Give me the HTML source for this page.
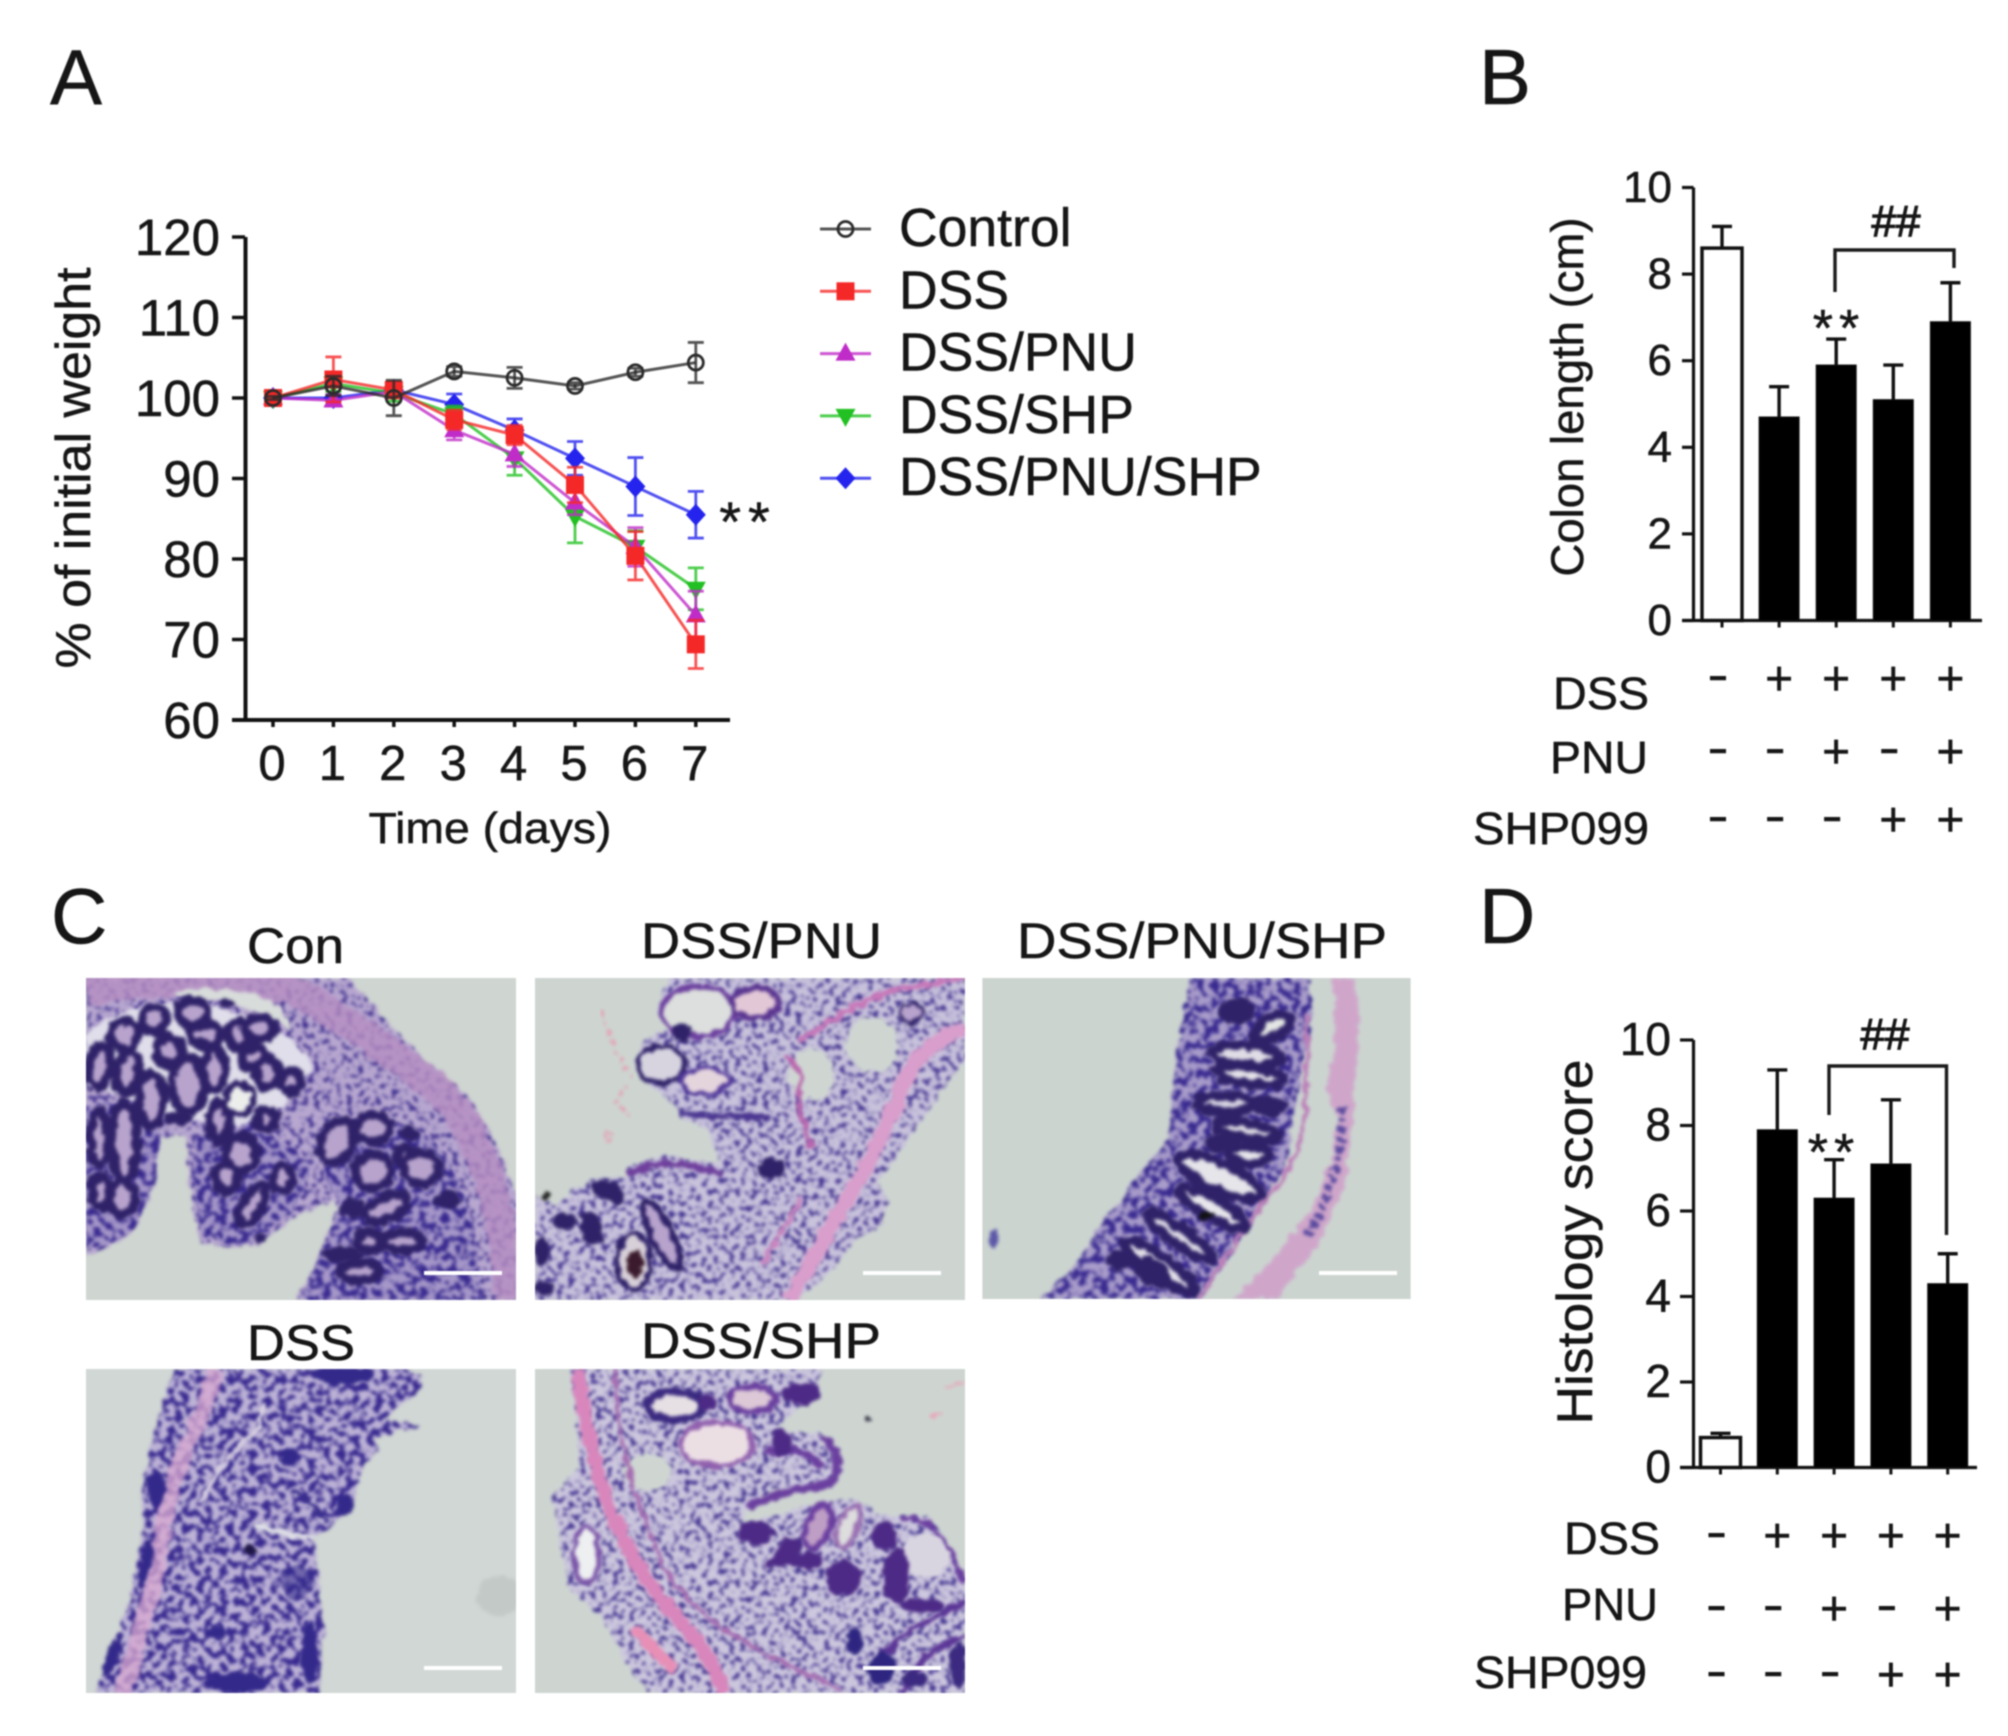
<!DOCTYPE html>
<html lang="en">
<head>
<meta charset="utf-8">
<title>Colitis weight, colon length and histology figure</title>
<style>
html,body{margin:0;padding:0;background:#fff;}
#figure{display:block;width:2008px;height:1736px;font-family:"Liberation Sans",sans-serif;filter:blur(0.8px);}
text{font-family:"Liberation Sans",sans-serif;fill:#161616;stroke:#161616;stroke-width:.5px;}
.ring{stroke:#2f2268;fill:#b7a3cc;}
.dark{fill:#2f2268;stroke:none;}
.bgp{fill:#cfd6d2;stroke:none;}
</style>
</head>
<body>
<svg id="figure" xmlns="http://www.w3.org/2000/svg" width="2008" height="1736" viewBox="0 0 2008 1736">
<defs>
<filter id="speck" x="-3%" y="-3%" width="106%" height="106%" color-interpolation-filters="sRGB">
<feTurbulence type="fractalNoise" baseFrequency=".03" numOctaves="2" seed="4" result="w"/>
<feDisplacementMap in="SourceGraphic" in2="w" scale="26" xChannelSelector="R" yChannelSelector="G" result="s"/>
<feTurbulence type="fractalNoise" baseFrequency=".06" numOctaves="2" seed="7" result="n"/>
<feColorMatrix in="n" type="matrix" values="0 0 0 0 .25  0 0 0 0 .19  0 0 0 0 .56  8 0 0 0 -4.2" result="d"/>
<feComposite in="d" in2="s" operator="in" result="dd"/>
<feMerge result="m"><feMergeNode in="s"/><feMergeNode in="dd"/></feMerge>
<feGaussianBlur in="m" stdDeviation="4.5"/>
</filter>
<filter id="speckDense" x="-3%" y="-3%" width="106%" height="106%" color-interpolation-filters="sRGB">
<feTurbulence type="fractalNoise" baseFrequency=".03" numOctaves="2" seed="9" result="w"/>
<feDisplacementMap in="SourceGraphic" in2="w" scale="26" xChannelSelector="R" yChannelSelector="G" result="s"/>
<feTurbulence type="fractalNoise" baseFrequency=".045" numOctaves="2" seed="21" result="n"/>
<feColorMatrix in="n" type="matrix" values="0 0 0 0 .22  0 0 0 0 .16  0 0 0 0 .56  8 0 0 0 -3.7" result="d"/>
<feComposite in="d" in2="s" operator="in" result="dd"/>
<feMerge result="m"><feMergeNode in="s"/><feMergeNode in="dd"/></feMerge>
<feGaussianBlur in="m" stdDeviation="5"/>
</filter>
<filter id="blur3" x="-5%" y="-5%" width="110%" height="110%" color-interpolation-filters="sRGB">
<feTurbulence type="fractalNoise" baseFrequency=".035" numOctaves="2" seed="12" result="w"/>
<feDisplacementMap in="SourceGraphic" in2="w" scale="28" xChannelSelector="R" yChannelSelector="G" result="s"/>
<feGaussianBlur in="s" stdDeviation="5"/>
</filter>
</defs>
<rect x="0" y="0" width="2008" height="1736" fill="#fff"/>

<!-- panel letters -->
<text x="50" y="104" font-size="78">A</text>
<text x="1479" y="104" font-size="78">B</text>
<text x="51" y="943" font-size="78">C</text>
<text x="1479" y="943" font-size="78">D</text>

<!-- panel C titles -->
<text x="247" y="963" font-size="50" textLength="97" lengthAdjust="spacingAndGlyphs">Con</text>
<text x="641" y="958" font-size="50" textLength="241" lengthAdjust="spacingAndGlyphs">DSS/PNU</text>
<text x="1017" y="958" font-size="50" textLength="370" lengthAdjust="spacingAndGlyphs">DSS/PNU/SHP</text>
<text x="247" y="1360" font-size="50" textLength="108" lengthAdjust="spacingAndGlyphs">DSS</text>
<text x="641" y="1358" font-size="50" textLength="240" lengthAdjust="spacingAndGlyphs">DSS/SHP</text>

<!-- histology: Con -->
<svg x="86" y="978" width="430" height="322" viewBox="0 0 1290 966">
<rect width="1290" height="966" fill="#cfd5d1"/>
<path filter="url(#speck)" fill="#b8a8d0" d="M0,0H790L900,130L1000,230L1150,360L1230,500L1290,640V966H630L680,880L720,780L760,690L740,670L620,720L520,800L420,810L340,790L310,600L300,470L220,480L190,640L130,770L60,810L0,830Z"/>
<g filter="url(#blur3)">
<path d="M0,40C150,10 450,-10 600,30C700,70 900,210 1050,330C1150,420 1250,600 1270,966" fill="none" stroke="#b68fc2" stroke-width="90" opacity=".8"/>
<path d="M260,45C320,25 460,25 540,60C590,90 610,130 610,160C560,110 460,70 300,60Z" fill="#d8dcda"/>
<path d="M0,170C100,80 250,60 420,90C520,130 640,180 680,260C640,350 560,420 500,450C420,450 300,420 220,400C120,360 40,320 0,330Z" fill="#e0deea"/>
</g>
<g filter="url(#speckDense)" fill="#a698c8">
<path d="M0,380H230L210,600L150,750L60,800L0,810Z"/>
<path d="M330,480L500,430L680,560L620,700L500,790L420,800L350,770L320,600Z"/>
<path d="M700,470C820,390 960,410 1060,510C1120,600 1150,700 1170,800L1190,966H640L700,840L770,680L720,610Z"/>
</g>
<g filter="url(#blur3)" class="ring" stroke-width="28">
<ellipse cx="40" cy="265" rx="33" ry="62" transform="rotate(10 40 265)"/>
<ellipse cx="115" cy="170" rx="42" ry="42"/><ellipse cx="205" cy="125" rx="38" ry="38"/><ellipse cx="320" cy="105" rx="44" ry="40"/>
<ellipse cx="250" cy="220" rx="38" ry="42"/><ellipse cx="360" cy="170" rx="48" ry="33"/><ellipse cx="460" cy="170" rx="33" ry="40"/><ellipse cx="520" cy="150" rx="46" ry="33"/>
<ellipse cx="125" cy="285" rx="33" ry="62" transform="rotate(10 125 285)"/><ellipse cx="195" cy="365" rx="38" ry="78"/><ellipse cx="305" cy="320" rx="48" ry="82"/><ellipse cx="385" cy="275" rx="33" ry="62"/>
<ellipse cx="505" cy="240" rx="38" ry="32"/><ellipse cx="545" cy="285" rx="33" ry="42"/><ellipse cx="615" cy="310" rx="32" ry="32"/>
<ellipse cx="540" cy="425" rx="28" ry="32"/><ellipse cx="465" cy="525" rx="48" ry="52"/><ellipse cx="400" cy="430" rx="28" ry="58"/>
<ellipse cx="40" cy="480" rx="28" ry="80"/><ellipse cx="115" cy="490" rx="38" ry="115"/><ellipse cx="45" cy="640" rx="28" ry="48"/><ellipse cx="110" cy="660" rx="38" ry="48"/>
<ellipse cx="420" cy="600" rx="33" ry="42"/><ellipse cx="500" cy="680" rx="28" ry="68" transform="rotate(30 500 680)"/><ellipse cx="590" cy="600" rx="28" ry="38"/>
<ellipse cx="755" cy="490" rx="48" ry="68" transform="rotate(30 755 490)"/><ellipse cx="860" cy="450" rx="50" ry="42"/><ellipse cx="955" cy="535" rx="23" ry="28"/><ellipse cx="1005" cy="570" rx="52" ry="48"/><ellipse cx="860" cy="580" rx="52" ry="52"/>
<ellipse cx="900" cy="690" rx="68" ry="33" transform="rotate(-25 900 690)"/><ellipse cx="850" cy="790" rx="38" ry="28"/><ellipse cx="950" cy="790" rx="58" ry="28"/><ellipse cx="820" cy="880" rx="58" ry="28"/>
<ellipse cx="460" cy="365" rx="42" ry="48" stroke-width="18" style="fill:#eceeec"/>
</g>
<g filter="url(#blur3)" class="dark">
<ellipse cx="970" cy="465" rx="28" ry="24"/><ellipse cx="1085" cy="665" rx="38" ry="27"/><ellipse cx="420" cy="75" rx="24" ry="12"/><ellipse cx="520" cy="780" rx="18" ry="14"/><ellipse cx="280" cy="420" rx="40" ry="22"/><ellipse cx="800" cy="690" rx="40" ry="30"/><ellipse cx="770" cy="830" rx="60" ry="25"/>
</g>
</svg>

<!-- histology: DSS/PNU -->
<svg x="535" y="978" width="430" height="322" viewBox="0 0 1290 966">
<rect width="1290" height="966" fill="#ced5d1"/>
<path filter="url(#speck)" fill="#c9c3dc" d="M400,0L370,100L420,140L330,180L300,250L340,320L420,380L430,410L510,450L560,560L400,530L280,570L270,600L170,600L60,680L0,650V966H780L900,870L960,790L1040,740L1060,670L1030,610L1130,470L1240,310L1290,250V0Z"/>
<g filter="url(#blur3)">
<ellipse class="bgp" cx="1010" cy="200" rx="80" ry="80"/>
<ellipse class="bgp" cx="830" cy="290" rx="70" ry="75"/>
<path d="M1290,150C1200,190 1150,220 1100,330C1050,470 980,600 900,720C850,820 800,900 760,966" fill="none" stroke="#d99ecb" stroke-width="45"/>
<path d="M790,190L950,90L1060,40L1290,0" fill="none" stroke="#c777b8" stroke-width="17"/>
<path d="M750,230L800,290L790,390L830,510" fill="none" stroke="#b866ad" stroke-width="14"/>
<path d="M800,660L680,860" fill="none" stroke="#c985bf" stroke-width="14"/>
<path d="M280,590C350,540 450,550 560,590" fill="none" stroke="#6e3f9c" stroke-width="20"/>
<path d="M430,410L700,420" fill="none" stroke="#4a3690" stroke-width="18"/>
</g>
<g filter="url(#blur3)" class="ring">
<ellipse cx="490" cy="100" rx="110" ry="75" stroke-width="16" style="fill:#dcdfdd;stroke:#6b3f9e"/>
<ellipse cx="660" cy="75" rx="70" ry="45" stroke-width="18" style="fill:#e2c8d6;stroke:#5a3590"/>
<ellipse cx="380" cy="260" rx="70" ry="55" stroke-width="16" style="fill:#d7d4e0"/>
<ellipse cx="510" cy="310" rx="70" ry="40" stroke-width="14" style="fill:#e4d4dc;stroke:#51389a"/>
<ellipse cx="380" cy="770" rx="32" ry="110" stroke-width="20" transform="rotate(-25 380 770)"/>
<ellipse cx="295" cy="850" rx="50" ry="85" stroke-width="16" style="fill:#d8d0d8"/>
<ellipse cx="1130" cy="105" rx="30" ry="30" stroke-width="10"/>
</g>
<g filter="url(#blur3)" class="dark">
<ellipse cx="710" cy="570" rx="42" ry="30"/><ellipse cx="440" cy="165" rx="26" ry="30"/>
<ellipse cx="220" cy="640" rx="55" ry="30" transform="rotate(25 220 640)"/><ellipse cx="170" cy="750" rx="32" ry="55" transform="rotate(-20 170 750)"/><ellipse cx="90" cy="730" rx="35" ry="28"/><ellipse cx="20" cy="820" rx="22" ry="42"/><ellipse cx="30" cy="930" rx="30" ry="20"/>
<ellipse cx="300" cy="855" rx="24" ry="42" style="fill:#3a1a2c"/>
<ellipse cx="35" cy="655" rx="14" ry="9" style="fill:#222"/>
</g>
<g filter="url(#blur3)" fill="none" stroke="#e3a3b5" stroke-width="9">
<path d="M200,100L250,240L290,300L240,370L290,420M215,460L215,490L240,475Z" stroke-dasharray="16 14"/>
</g>
</svg>

<!-- histology: DSS/PNU/SHP -->
<svg x="982" y="978" width="429" height="321" viewBox="66 232 1289 966">
<rect x="66" y="232" width="1289" height="966" fill="#ccd4d0"/>
<path filter="url(#speckDense)" fill="#a99dca" d="M690,232L660,420L640,560L625,720L560,790L500,880L420,970L350,1090L240,1198H720L820,1050L900,920L980,800L1010,600L1060,350L1050,232Z"/>
<g filter="url(#blur3)">
<path d="M1120,232L1190,232L1200,350L1185,600L1160,850L1070,1040L950,1198H820L930,1090L1060,920L1110,800L1140,650L1100,580L1130,400Z" fill="#cfa6ca"/>
<path d="M1040,340C1050,500 1030,590 1040,620C1030,720 1000,820 920,890C860,990 780,1090 720,1198" fill="none" stroke="#bb7fb8" stroke-width="14"/>
<path d="M1150,620C1150,780 1110,900 1040,1020" fill="none" stroke="#5a4a9f" stroke-width="24" stroke-dasharray="18 12"/>
</g>
<g filter="url(#blur3)" class="ring" stroke-width="30">
<ellipse cx="860" cy="465" rx="105" ry="30" transform="rotate(5 860 465)" style="fill:#e0dde6"/>
<ellipse cx="870" cy="525" rx="105" ry="26" transform="rotate(8 870 525)" style="fill:#e4e2e8"/>
<ellipse cx="800" cy="610" rx="90" ry="24" style="fill:#d8d5e2"/>
<ellipse cx="860" cy="690" rx="100" ry="24" transform="rotate(10 860 690)" style="fill:#dedce4"/>
<ellipse cx="780" cy="830" rx="135" ry="42" transform="rotate(25 780 830)" style="fill:#e6e5ea"/>
<ellipse cx="760" cy="925" rx="115" ry="30" transform="rotate(30 760 925)" style="fill:#e8e7ec"/>
<ellipse cx="660" cy="1010" rx="120" ry="26" transform="rotate(35 660 1010)" style="fill:#dcdae4"/>
<ellipse cx="600" cy="1100" rx="130" ry="30" transform="rotate(35 600 1100)" style="fill:#e2e0e8"/>
<ellipse cx="940" cy="380" rx="60" ry="30" transform="rotate(-30 940 380)" style="fill:#e3e6e4"/>
<ellipse cx="870" cy="765" rx="60" ry="25" style="fill:#e6e6ea"/>
</g>
<g filter="url(#blur3)" class="dark">
<ellipse cx="830" cy="330" rx="55" ry="40"/><ellipse cx="930" cy="620" rx="55" ry="32"/><ellipse cx="790" cy="730" rx="58" ry="32"/><ellipse cx="580" cy="1120" rx="60" ry="40" transform="rotate(40 580 1120)"/><ellipse cx="740" cy="945" rx="22" ry="14" style="fill:#111"/><ellipse cx="480" cy="1080" rx="50" ry="30"/><ellipse cx="100" cy="1020" rx="14" ry="30" style="fill:#5c57a8"/>
</g>
</svg>

<!-- histology: DSS -->
<svg x="86" y="1369" width="430" height="324" viewBox="0 0 1290 972">
<rect width="1290" height="972" fill="#d1d7d4"/>
<ellipse cx="1240" cy="680" rx="70" ry="60" fill="#c3c9c6" filter="url(#blur3)"/>
<path filter="url(#speckDense)" fill="#bdb3d6" d="M265,0L220,130L170,330L170,480L130,700L30,972H700L715,800L690,540L680,510L740,470L810,390L830,290L880,240L860,210L1000,170L900,150L1000,60L1010,20L960,0Z"/>
<g filter="url(#blur3)">
<path d="M390,0C370,80 320,200 260,330C230,450 220,600 170,760C150,840 130,900 110,972" fill="none" stroke="#d9a9d0" stroke-width="50" opacity=".75"/>
<path d="M530,100L520,180L470,220L400,300L340,400" fill="none" stroke="#d9d2e2" stroke-width="14"/>
<path d="M500,470L680,510" fill="none" stroke="#dfe0e6" stroke-width="16"/>
<path d="M620,360L730,460" fill="none" stroke="#3a2f8c" stroke-width="12"/>
</g>
<g filter="url(#blur3)" class="dark" style="fill:#33298a">
<ellipse cx="210" cy="360" rx="28" ry="50"/><ellipse cx="180" cy="580" rx="18" ry="75" transform="rotate(12 180 580)"/><ellipse cx="80" cy="860" rx="18" ry="70" transform="rotate(20 80 860)"/>
<ellipse cx="770" cy="20" rx="90" ry="28"/><ellipse cx="610" cy="265" rx="32" ry="24"/><ellipse cx="775" cy="410" rx="28" ry="30"/>
<ellipse cx="390" cy="790" rx="32" ry="20"/><ellipse cx="670" cy="850" rx="24" ry="100"/><ellipse cx="450" cy="940" rx="100" ry="30"/><ellipse cx="490" cy="545" rx="22" ry="14" style="fill:#1e1745"/>
<ellipse cx="630" cy="640" rx="50" ry="50" opacity=".55"/>
</g>
</svg>

<!-- histology: DSS/SHP -->
<svg x="535" y="1369" width="430" height="324" viewBox="0 0 1290 972">
<rect width="1290" height="972" fill="#ced5d1"/>
<path filter="url(#speck)" fill="#cdc8de" d="M110,0L120,120L130,300L50,380L100,660L200,740L270,880L340,972H1290V640L1260,560L1180,440L1040,440L960,390L860,400L720,440L620,460L630,430L720,360L880,350L920,300L860,200L720,180L850,70L860,0Z"/>
<g filter="url(#blur3)">
<ellipse class="bgp" cx="340" cy="310" rx="70" ry="55"/>
<path d="M130,0C140,120 170,250 210,380C260,520 330,640 430,750C480,810 530,860 570,972" fill="none" stroke="#d886bb" stroke-width="42"/>
<path d="M240,0C240,170 290,400 400,620C520,790 720,870 920,965" fill="none" stroke="#a56cb0" stroke-width="12"/>
<path d="M300,780C340,820 380,870 420,900" fill="none" stroke="#e88fb6" stroke-width="32"/>
<path d="M640,420C660,400 720,370 880,345C925,310 915,240 860,205" fill="none" stroke="#6a3f9f" stroke-width="24"/>
<path d="M1100,450C1180,430 1230,510 1290,640" fill="none" stroke="#6a3f9f" stroke-width="18"/>
<path d="M690,250C780,230 830,250 860,300" fill="none" stroke="#6a3f9f" stroke-width="24"/>
<path d="M1290,700L1130,780L1020,880M1290,800L1170,860L1100,972" fill="none" stroke="#5b3596" stroke-width="18"/>
<path d="M1230,50L1290,40M1180,145L1220,135" fill="none" stroke="#e7a6bb" stroke-width="8"/>
</g>
<g filter="url(#blur3)" class="ring">
<ellipse cx="420" cy="110" rx="85" ry="42" stroke-width="24" style="fill:#e6e0e4;stroke:#3b2a80"/>
<ellipse cx="650" cy="90" rx="70" ry="38" stroke-width="18" style="fill:#dcc8d6;stroke:#6a3f9f"/>
<ellipse cx="545" cy="225" rx="110" ry="65" stroke-width="14" style="fill:#ecdfe4;stroke:#9160ae"/>
<ellipse cx="155" cy="560" rx="38" ry="85" stroke-width="14" style="fill:#edeff0;stroke:#7b55a8"/>
<ellipse cx="940" cy="470" rx="30" ry="65" stroke-width="14" style="fill:#ddd;stroke:#9a70b2" transform="rotate(22 940 470)"/>
<ellipse cx="850" cy="470" rx="35" ry="70" stroke-width="20" style="fill:#bf9ec5;stroke:#6a3f9f" transform="rotate(20 850 470)"/>
<ellipse cx="1170" cy="560" rx="70" ry="65" stroke-width="0" style="fill:#d9d5e0"/>
</g>
<g filter="url(#blur3)" class="dark" style="fill:#4c2a86">
<ellipse cx="665" cy="490" rx="55" ry="35"/><path d="M690,595L750,505L800,510L800,590Z"/><ellipse cx="830" cy="575" rx="35" ry="28"/>
<ellipse cx="925" cy="625" rx="55" ry="52"/><ellipse cx="1085" cy="620" rx="40" ry="85"/><ellipse cx="1050" cy="500" rx="35" ry="45"/>
<ellipse cx="960" cy="815" rx="24" ry="40" style="fill:#2d2580"/><ellipse cx="1040" cy="900" rx="40" ry="50" transform="rotate(25 1040 900)" style="fill:#2d2580"/>
<ellipse cx="1160" cy="710" rx="70" ry="22"/><ellipse cx="800" cy="75" rx="60" ry="30" /><ellipse cx="740" cy="220" rx="30" ry="40"/><ellipse cx="520" cy="100" rx="25" ry="25"/>
<ellipse cx="1270" cy="890" rx="25" ry="70" style="fill:#3b2a80"/><ellipse cx="1140" cy="930" rx="40" ry="24" style="fill:#3b2a80"/><ellipse cx="1000" cy="150" rx="11" ry="9" style="fill:#334"/>
</g>
</svg>

<!-- scale bars -->
<g fill="#fff">
<rect x="424" y="1271" width="78" height="4"/>
<rect x="863" y="1271" width="78" height="4"/>
<rect x="1319" y="1271" width="78" height="4"/>
<rect x="424" y="1666" width="78" height="4"/>
<rect x="863" y="1666" width="78" height="4"/>
</g>

<!-- static axis titles -->
<text transform="translate(90,468) rotate(-90)" text-anchor="middle" font-size="49" textLength="401" lengthAdjust="spacingAndGlyphs">% of initial weight</text>
<text x="490" y="843" text-anchor="middle" font-size="44" textLength="243" lengthAdjust="spacingAndGlyphs">Time (days)</text>
<text transform="translate(1583,397) rotate(-90)" text-anchor="middle" font-size="45" textLength="359" lengthAdjust="spacingAndGlyphs">Colon length (cm)</text>
<text transform="translate(1592,1242) rotate(-90)" text-anchor="middle" font-size="50" textLength="365" lengthAdjust="spacingAndGlyphs">Histology score</text>

<text x="748" y="541" text-anchor="middle" font-size="56" letter-spacing="7">**</text>
<text x="1839" y="346" text-anchor="middle" font-size="52" letter-spacing="6">**</text>
<text x="1834" y="1170" text-anchor="middle" font-size="52" letter-spacing="6">**</text>
<text x="1896" y="236" text-anchor="middle" font-size="44" style="stroke-width:1.2px">##</text>
<text x="1885" y="1049" text-anchor="middle" font-size="44" style="stroke-width:1.2px">##</text>
<path d="M1835,292V250H1954V268" fill="none" stroke="#1a1a1a" stroke-width="3.4"/>
<path d="M1829,1115V1066H1946.5V1235" fill="none" stroke="#1a1a1a" stroke-width="3.4"/>

<g id="chartA"></g>
<g id="legendA"></g>
<g id="chartB"></g>
<g id="chartD"></g>
</svg>

<script>
// Panel A data
const days = [0, 1, 2, 3, 4, 5, 6, 7];
const weightTicks = [60, 70, 80, 90, 100, 110, 120];
const controlMean = [100, 101.5, 100, 103.3, 102.5, 101.5, 103.2, 104.4];
const controlErr = [0.2, 1.2, 2.2, 0.6, 1.3, 0.4, 0.5, 2.5];
const dssMean = [100, 102.3, 101, 97.3, 95.4, 89.2, 80.4, 69.4];
const dssErr = [0.2, 2.8, 1, 1.2, 1.2, 2.2, 3, 3];
const pnuMean = [100, 99.7, 100.8, 96, 93, 87, 81.5, 73];
const pnuErr = [0.2, 0.7, 0.6, 1.2, 1.5, 1.5, 2.4, 3];
const shpMean = [100, 101.8, 100.6, 98, 92.5, 85.3, 81.5, 76.3];
const shpErr = [0.2, 1, 1, 1, 2.1, 3.3, 2, 2.6];
const comboMean = [100, 100, 101, 99.2, 96, 92.5, 89, 85.5];
const comboErr = [0.2, 0.3, 0.5, 1.3, 1.4, 2.1, 3.6, 2.9];

// Panel B data
const treatmentRowsLabels = ['DSS', 'PNU', 'SHP099'];
const colonTicks = [0, 2, 4, 6, 8, 10];
const colonMean = [8.6, 4.7, 5.9, 5.1, 6.9];
const colonErr = [0.5, 0.7, 0.6, 0.8, 0.9];

// Panel D data
const histologyTicks = [0, 2, 4, 6, 8, 10];
const histologyMean = [0.7, 7.9, 6.3, 7.1, 4.3];
const histologyErr = [0.1, 1.4, 0.9, 1.5, 0.7];

// Treatment table
const dssRow = ['-', '+', '+', '+', '+'];
const pnuRow = ['-', '-', '+', '-', '+'];
const shpRow = ['-', '-', '-', '+', '+'];

const seriesList = [
  {name: 'dss-pnu-shp', label: 'DSS/PNU/SHP', color: '#2424ee', mean: comboMean, err: comboErr, marker: 'diamond'},
  {name: 'dss-shp', label: 'DSS/SHP', color: '#22c022', mean: shpMean, err: shpErr, marker: 'down'},
  {name: 'dss-pnu', label: 'DSS/PNU', color: '#c02cc8', mean: pnuMean, err: pnuErr, marker: 'up'},
  {name: 'dss', label: 'DSS', color: '#f52828', mean: dssMean, err: dssErr, marker: 'square'},
  {name: 'control', label: 'Control', color: '#2b2b2b', mean: controlMean, err: controlErr, marker: 'circle'}
];

const NS = 'http://www.w3.org/2000/svg';
function el(tag, attrs, parent) {
  const node = document.createElementNS(NS, tag);
  for (const key in attrs) node.setAttribute(key, attrs[key]);
  parent.appendChild(node);
  return node;
}
function xA(d) { return 273 + d * 60.4; }
function yA(v) { return 720 - (v - 60) * 8.05; }
function yB(v) { return 620.5 - v * 43.3; }
function yD(v) { return 1467.5 - v * 42.75; }
function xB(i) { return 1722 + i * 57.1; }
function xD(i) { return 1720.5 + i * 56.8; }

function drawMarker(kind, x, y, color, parent) {
  let node;
  if (kind === 'square') {
    node = el('rect', {x: x - 9, y: y - 9, width: 18, height: 18, fill: color}, parent);
  } else if (kind === 'circle') {
    node = el('circle', {cx: x, cy: y, r: 7.5, fill: 'none', stroke: color, 'stroke-width': 2.8}, parent);
  } else if (kind === 'up') {
    node = el('path', {d: `M${x},${y - 11}L${x + 10},${y + 7}H${x - 10}Z`, fill: color}, parent);
  } else if (kind === 'down') {
    node = el('path', {d: `M${x},${y + 11}L${x + 10},${y - 7}H${x - 10}Z`, fill: color}, parent);
  } else {
    node = el('path', {d: `M${x},${y - 11}L${x + 10},${y}L${x},${y + 11}L${x - 10},${y}Z`, fill: color}, parent);
  }
  return node;
}

// ---- Panel A
const chartA = document.getElementById('chartA');
const yAxisA = el('path', {d: `M245.5,${yA(120)}V${yA(60)}`, stroke: '#111', 'stroke-width': 4, fill: 'none'}, chartA);


const xAxisA = el('path', {d: `M232,${yA(60)}H730`, stroke: '#111', 'stroke-width': 4, fill: 'none'}, chartA);


weightTicks.forEach(function (t) {
  const tick = el('line', {x1: 232, x2: 245, y1: yA(t), y2: yA(t), stroke: '#111', 'stroke-width': 3.5}, chartA);
  
  
  const label = el('text', {x: 220, y: yA(t) + 18, 'text-anchor': 'end', 'font-size': 51}, chartA);
  label.textContent = t;
  
  
});
days.forEach(function (d) {
  const tick = el('line', {x1: xA(d), x2: xA(d), y1: yA(60), y2: yA(60) + 7, stroke: '#111', 'stroke-width': 3.5}, chartA);
  
  
  const label = el('text', {x: xA(d) - 1, y: 780, 'text-anchor': 'middle', 'font-size': 49}, chartA);
  label.textContent = d;
  
  
});
seriesList.forEach(function (s) {
  const g = el('g', {}, chartA);
  
  
  const pts = days.map(function (d, i) { return xA(d) + ',' + yA(s.mean[i]); }).join(' ');
  const line = el('polyline', {points: pts, fill: 'none', stroke: s.color, 'stroke-width': 3, 'stroke-opacity': 0.8}, g);
  
  
  days.forEach(function (d, i) {
    const x = xA(d);
    const hi = yA(s.mean[i] + s.err[i]);
    const lo = yA(s.mean[i] - s.err[i]);
    const eb = el('path', {d: `M${x - 8},${hi}H${x + 8}M${x},${hi}V${lo}M${x - 8},${lo}H${x + 8}`, fill: 'none', stroke: s.color, 'stroke-width': 2.8, 'stroke-opacity': 0.8}, g);
    
    
    const m = drawMarker(s.marker, x, yA(s.mean[i]), s.color, g);
    
    
  });
});

// ---- Legend (Control first, combination last)
const legendA = document.getElementById('legendA');
seriesList.slice().reverse().forEach(function (s, i) {
  const rowY = 229 + i * 62.3;
  const g = el('g', {}, legendA);
  
  
  const sw = el('line', {x1: 820, x2: 871, y1: rowY, y2: rowY, stroke: s.color, 'stroke-width': 3, 'stroke-opacity': 0.8}, g);
  
  
  const mk = drawMarker(s.marker, 845.5, rowY, s.color, g);
  
  
  const txt = el('text', {x: 899, y: rowY + 17, 'font-size': 53.5}, g);
  txt.textContent = s.label;
  
  
});

// ---- Bar panels
function drawBars(parent, key, ticks, mean, err, yFn, xFn, axisX, axisLeft, axisRight, tickFont, labelRight, topV, axisW) {
  const yAx = el('path', {d: `M${axisX},${yFn(topV)}V${yFn(0)}`, stroke: '#111', 'stroke-width': axisW, fill: 'none'}, parent);
  
  
  const xAx = el('path', {d: `M${axisLeft},${yFn(0)}H${axisRight}`, stroke: '#111', 'stroke-width': axisW, fill: 'none'}, parent);
  
  
  ticks.forEach(function (t) {
    const tk = el('line', {x1: axisLeft, x2: axisX, y1: yFn(t), y2: yFn(t), stroke: '#111', 'stroke-width': axisW}, parent);
    
    
    const lb = el('text', {x: labelRight, y: yFn(t) + tickFont * 0.33, 'text-anchor': 'end', 'font-size': tickFont}, parent);
    lb.textContent = t;
    
    
  });
  mean.forEach(function (v, i) {
    const x = xFn(i);
    const first = i === 0;
    const eb = el('path', {d: `M${x},${yFn(v)}V${yFn(v + err[i])}M${x - 10},${yFn(v + err[i])}H${x + 10}`, fill: 'none', stroke: '#111', 'stroke-width': 3.4}, parent);
    
    
    const bar = el('rect', {x: x - 20, y: yFn(v), width: 40, height: yFn(0) - yFn(v), fill: first ? '#fff' : '#000', stroke: '#111', 'stroke-width': first ? 3.5 : 1}, parent);
    
    
    const tk = el('line', {x1: x, x2: x, y1: yFn(0), y2: yFn(0) + 7, stroke: '#111', 'stroke-width': 3}, parent);
    
    
  });
}

function drawRow(parent, key, title, values, xFn, rowY, labelRight, labelBase, labelLen) {
  const lb = el('text', {x: labelRight, y: labelBase, 'text-anchor': 'end', 'font-size': 45, textLength: labelLen, lengthAdjust: 'spacingAndGlyphs'}, parent);
  lb.textContent = title;
  
  
  values.forEach(function (sym, i) {
    const isPlus = sym === '+';
    const attrs = isPlus
      ? {x: xFn(i), y: rowY + 17, 'text-anchor': 'middle', 'font-size': 48}
      : {x: xFn(i) - 4, y: rowY + 13, 'text-anchor': 'middle', 'font-size': 48, textLength: 21, lengthAdjust: 'spacingAndGlyphs'};
    const t = el('text', attrs, parent);
    t.textContent = sym;
    
    
  });
}

const chartB = document.getElementById('chartB');
drawBars(chartB, 'colon-length', colonTicks, colonMean, colonErr, yB, xB, 1693.5, 1682, 1982, 44, 1672, 10, 3.2);
drawRow(chartB, 'dss', treatmentRowsLabels[0], dssRow, xB, 678, 1649, 709, 96);
drawRow(chartB, 'pnu', treatmentRowsLabels[1], pnuRow, xB, 751, 1648, 773, 98);
drawRow(chartB, 'shp099', treatmentRowsLabels[2], shpRow, xB, 819, 1649, 844, 176);

const chartD = document.getElementById('chartD');
drawBars(chartD, 'histology', histologyTicks, histologyMean, histologyErr, yD, xD, 1693.5, 1680, 1977, 46, 1671, 10, 3.2);
drawRow(chartD, 'dss', treatmentRowsLabels[0], dssRow, xD, 1535, 1660, 1554, 96);
drawRow(chartD, 'pnu', treatmentRowsLabels[1], pnuRow, xD, 1608, 1658, 1620, 96);
drawRow(chartD, 'shp099', treatmentRowsLabels[2], shpRow, xD, 1674, 1647, 1688, 173);
</script>
</body>
</html>
